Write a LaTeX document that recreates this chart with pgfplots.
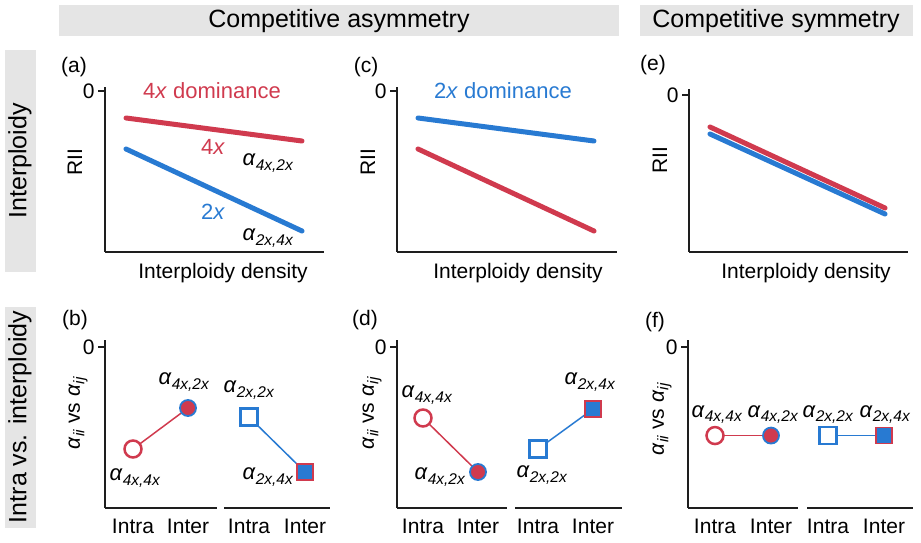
\documentclass[border=0pt]{standalone}
\usepackage{fontspec}
\setmainfont{Liberation Sans}
\usepackage{pgfplots}
\pgfplotsset{compat=1.18}

\definecolor{rd}{RGB}{208,58,78}
\definecolor{bl}{RGB}{40,122,210}
\definecolor{axc}{RGB}{30,30,30}
\definecolor{band}{RGB}{229,229,229}

\newcommand{\fA}{\fontsize{25}{28}\selectfont}
\newcommand{\fB}{\fontsize{21}{24}\selectfont}
\newcommand{\fC}{\fontsize{22}{24}\selectfont}
\newcommand{\al}[1]{\textit{α}\raisebox{-0.4ex}{\fontsize{15.5}{16}\selectfont\textit{#1}}}
\newcommand{\px}[1]{#1\textit{x}}

\tikzset{lab/.style={font=\fC}}
\pgfplotsset{
  panel/.style={scale only axis, clip=false,
    axis line style={-, line width=2pt, axc},
    every outer x axis line/.append style={-},
    every outer y axis line/.append style={-},
    every inner x axis line/.append style={-},
    every inner y axis line/.append style={-},
    tick style={line width=2pt, axc},
    tick align=outside, major tick length=7pt,
    ytick={0}, yticklabels={0},
    tick label style={font=\fB}},
  toprow/.style={axis lines=left, panel, xtick=\empty, height=165pt, ymin=-161, ymax=4},
  botrow/.style={panel, height=168pt, ymin=-161, ymax=7,
    xtick style={draw=none},
    xticklabel style={yshift=-1pt}},
  botL/.style={axis lines=left, botrow},
  botR/.style={axis x line=bottom, axis y line=none, botrow},
  link/.style={line width=1.5pt, no marks},
  ocirc/.style={only marks, mark=*, mark size=8.5pt, mark options={fill=white, draw=rd, line width=2.5pt}},
  fcirc/.style={only marks, mark=*, mark size=8pt, mark options={fill=rd, draw=bl, line width=1.8pt}},
  osq/.style={only marks, mark=square*, mark size=8.5pt, mark options={fill=white, draw=bl, line width=2.5pt}},
  fsq/.style={only marks, mark=square*, mark size=8pt, mark options={fill=bl, draw=rd, line width=1.8pt}},
}

\begin{document}
\begin{tikzpicture}
\useasboundingbox (0,0) rectangle (921pt,543pt);
% header bands
\fill[band] (59pt,507pt) rectangle (619pt,538pt);
\fill[band] (640pt,507pt) rectangle (913pt,538pt);
\fill[band] (5pt,271pt) rectangle (36pt,493pt);
\fill[band] (5pt,15pt) rectangle (36pt,236pt);
\node[font=\fA] at (339pt,522pt) {Competitive asymmetry};
\node[font=\fA] at (776pt,522pt) {Competitive symmetry};
\node[font=\fA, rotate=90] at (20pt,382pt) {Interploidy};
\node[font=\fA, rotate=90] at (20pt,126pt) {Intra vs. interploidy};

% (a)
\begin{axis}[toprow, at={(105pt,291pt)}, width=219pt, xmin=105, xmax=324]
\addplot[rd, line width=5pt, line cap=round] coordinates {(126,-27) (302,-50)};
\addplot[bl, line width=5pt, line cap=round] coordinates {(126,-58) (302,-140)};
\node[lab, text=rd] at (axis cs:212,0) {4\textit{x} dominance};
\node[lab, text=rd] at (axis cs:213,-56) {\px{4}};
\node[lab] at (axis cs:268,-72) {\al{4x,2x}};
\node[lab, text=bl] at (axis cs:213,-121) {\px{2}};
\node[lab] at (axis cs:268,-147) {\al{2x,4x}};
\end{axis}

% (c)
\begin{axis}[toprow, at={(397pt,291pt)}, width=220pt, xmin=397, xmax=617]
\addplot[bl, line width=5pt, line cap=round] coordinates {(418,-27) (594,-50)};
\addplot[rd, line width=5pt, line cap=round] coordinates {(418,-58) (594,-140)};
\node[lab, text=bl] at (axis cs:503,0) {2\textit{x} dominance};
\end{axis}

% (e)
\begin{axis}[toprow, at={(689pt,291pt)}, width=219pt, height=163pt,
  xmin=689, xmax=908, ymin=-157, ymax=6]
\addplot[rd, line width=5pt, line cap=round] coordinates {(710,-32) (885,-113)};
\addplot[bl, line width=5pt, line cap=round] coordinates {(710,-39) (885,-119)};
\end{axis}

% (b)
\begin{axis}[botL, at={(105pt,35pt)}, width=112pt,
  xmin=105, xmax=217, xtick={133,188}, xticklabels={Intra,Inter}]
\addplot[rd, link] coordinates {(133,-102) (188,-61)};
\addplot[ocirc] coordinates {(133,-102)};
\addplot[fcirc] coordinates {(188,-61)};
\node[lab] at (axis cs:184,-35) {\al{4x,2x}};
\node[lab] at (axis cs:135,-131) {\al{4x,4x}};
\end{axis}
\begin{axis}[botR, at={(224pt,35pt)}, width=106pt,
  xmin=224, xmax=330, xtick={249,305}, xticklabels={Intra,Inter}]
\addplot[bl, link] coordinates {(249,-70) (305,-125)};
\addplot[osq] coordinates {(249,-70)};
\addplot[fsq] coordinates {(305,-125)};
\node[lab] at (axis cs:249,-43) {\al{2x,2x}};
\node[lab] at (axis cs:268,-130) {\al{2x,4x}};
\end{axis}

% (d)
\begin{axis}[botL, at={(397pt,35pt)}, width=110pt,
  xmin=397, xmax=507, xtick={423,478}, xticklabels={Intra,Inter}]
\addplot[rd, link] coordinates {(423,-71) (478,-125)};
\addplot[ocirc] coordinates {(423,-71)};
\addplot[fcirc] coordinates {(478,-125)};
\node[lab] at (axis cs:427,-48) {\al{4x,4x}};
\node[lab] at (axis cs:440,-130) {\al{4x,2x}};
\end{axis}
\begin{axis}[botR, at={(515pt,35pt)}, width=107pt,
  xmin=515, xmax=622, xtick={538,593}, xticklabels={Intra,Inter}]
\addplot[bl, link] coordinates {(538,-102) (593,-62)};
\addplot[osq] coordinates {(538,-102)};
\addplot[fsq] coordinates {(593,-62)};
\node[lab] at (axis cs:542,-128) {\al{2x,2x}};
\node[lab] at (axis cs:590,-35) {\al{2x,4x}};
\end{axis}

% (f)
\begin{axis}[botL, at={(688pt,35pt)}, width=110pt,
  xmin=688, xmax=798, ymin=-160, xtick={715,771}, xticklabels={Intra,Inter}]
\addplot[rd, link] coordinates {(715,-88) (771,-88)};
\addplot[ocirc] coordinates {(715,-88)};
\addplot[fcirc] coordinates {(771,-88)};
\node[lab] at (axis cs:717,-67) {\al{4x,4x}};
\node[lab] at (axis cs:773,-67) {\al{4x,2x}};
\end{axis}
\begin{axis}[botR, at={(807pt,35pt)}, width=106pt,
  xmin=807, xmax=913, ymin=-160, xtick={828,884}, xticklabels={Intra,Inter}]
\addplot[bl, link] coordinates {(828,-88) (884,-88)};
\addplot[osq] coordinates {(828,-88)};
\addplot[fsq] coordinates {(884,-88)};
\node[lab] at (axis cs:828,-67) {\al{2x,2x}};
\node[lab] at (axis cs:885,-67) {\al{2x,4x}};
\end{axis}

% panel letters and axis titles
\begin{scope}[every node/.style={font=\fB}]
\node at (74pt,476pt) {(a)};
\node at (366pt,476pt) {(c)};
\node at (653pt,478pt) {(e)};
\node at (75pt,223pt) {(b)};
\node at (365pt,223pt) {(d)};
\node at (655pt,221pt) {(f)};
\node[rotate=90] at (75pt,381pt) {RII};
\node[rotate=90] at (368pt,381pt) {RII};
\node[rotate=90] at (660pt,383pt) {RII};
\node at (223pt,270pt) {Interploidy density};
\node at (518pt,270pt) {Interploidy density};
\node at (806pt,270pt) {Interploidy density};
\node[rotate=90] at (78pt,130pt) {\al{ii} vs \al{ij}};
\node[rotate=90] at (372pt,130pt) {\al{ii} vs \al{ij}};
\node[rotate=90] at (662pt,124pt) {\al{ii} vs \al{ij}};
\end{scope}
\end{tikzpicture}
\end{document}
